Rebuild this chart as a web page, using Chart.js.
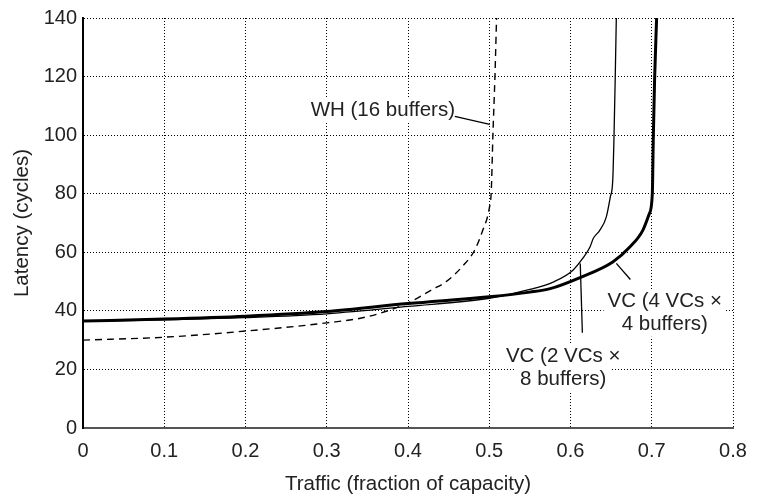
<!DOCTYPE html>
<html>
<head>
<meta charset="utf-8">
<script src="https://cdn.jsdelivr.net/npm/chart.js@4"></script>
<style>
  html, body { margin: 0; padding: 0; background: #fff; }
  canvas { display: block; }
</style>
</head>
<body>
<canvas id="chart" width="760" height="499"></canvas>
<script>
// Latency vs traffic for wormhole and virtual-channel flow control

const xTicks = [0, 0.1, 0.2, 0.3, 0.4, 0.5, 0.6, 0.7, 0.8];
const yTicks = [0, 20, 40, 60, 80, 100, 120, 140];

// WH (16 buffers) — dashed
const whX = [0, 0.1, 0.2, 0.3, 0.35, 0.4, 0.43, 0.447, 0.468, 0.482, 0.492, 0.5, 0.5025, 0.5045, 0.507, 0.509];
const whY = [30, 31, 33.1, 35.9, 38, 42.7, 47.3, 50, 55.5, 60.7, 67.5, 75, 81, 100, 120, 140];

// VC (2 VCs x 8 buffers) — thin
const vc2X = [0, 0.1, 0.2, 0.3, 0.4, 0.5, 0.55, 0.58, 0.603, 0.615, 0.624, 0.628, 0.636, 0.644, 0.649, 0.652, 0.6535, 0.655, 0.6564];
const vc2Y = [36.5, 36.9, 37.7, 39, 41.5, 44.3, 47.3, 50, 53.9, 57.9, 61.8, 64.7, 67.5, 72, 78.9, 84.6, 99, 119, 140];

// VC (4 VCs x 4 buffers) — thick
const vc4X = [0, 0.1, 0.2, 0.3, 0.4, 0.5, 0.55, 0.575, 0.611, 0.652, 0.673, 0.689, 0.697, 0.7007, 0.7019, 0.7035, 0.706];
const vc4Y = [36.5, 37.2, 38.2, 39.8, 42.5, 44.8, 46.4, 47.6, 51.3, 56.7, 61.8, 67.5, 73.2, 80, 99, 119, 140];

// Callout labels: text lines, text centre and leader line ends (data units)
const notes = [
  { lines: ['WH (16 buffers)'], at: [0.369, 108.5], lead: [[0.4576, 106.4], [0.5006, 103.7]] },
  { lines: ['VC (4 VCs \u00d7', '4 buffers)'], at: [0.716, 43.1], lead: [[0.6564, 56.2], [0.6737, 50.7]] },
  { lines: ['VC (2 VCs \u00d7', '8 buffers)'], at: [0.591, 24.6], lead: [[0.612, 56.2], [0.6146, 32.5]] }
];

const FONT = '"Liberation Sans", Arial, Helvetica, sans-serif';
const TEXT = '#222';

// Zips two arrays into {x, y} points
function pts(xs, ys) {
  return xs.map((x, i) => ({ x, y: ys[i] }));
}

// Draws callout text on white boxes plus leader lines, under the curves
const calloutPlugin = {
  id: 'callouts',
  beforeDatasetsDraw(chart) {
    const { ctx, scales: { x, y } } = chart;
    ctx.save();
    ctx.font = '20.5px ' + FONT;
    ctx.textAlign = 'center';
    ctx.textBaseline = 'middle';
    const lineH = 23;
    notes.forEach(n => {
      const cx = x.getPixelForValue(n.at[0]);
      const cy = y.getPixelForValue(n.at[1]);
      n.lines.forEach((t, i) => {
        const w = ctx.measureText(t).width;
        ctx.fillStyle = '#fff';
        ctx.fillRect(cx - w / 2 - 4, cy + i * lineH - 12, w + 8, 24);
      });
      n.lines.forEach((t, i) => {
        ctx.fillStyle = TEXT;
        ctx.fillText(t, cx, cy + i * lineH);
      });
      ctx.beginPath();
      ctx.strokeStyle = '#000';
      ctx.lineWidth = 1.3;
      ctx.moveTo(x.getPixelForValue(n.lead[0][0]), y.getPixelForValue(n.lead[0][1]));
      ctx.lineTo(x.getPixelForValue(n.lead[1][0]), y.getPixelForValue(n.lead[1][1]));
      ctx.stroke();
    });
    ctx.restore();
  }
};

function init() {
  const ctx = document.getElementById('chart').getContext('2d');
  new Chart(ctx, {
    type: 'scatter',
    data: {
      datasets: [
        {
          label: 'WH (16 buffers)',
          data: pts(whX, whY),
          showLine: true,
          borderColor: '#000',
          borderWidth: 1.4,
          borderDash: [7, 5],
          pointRadius: 0,
          cubicInterpolationMode: 'monotone'
        },
        {
          label: 'VC (2 VCs x 8 buffers)',
          data: pts(vc2X, vc2Y),
          showLine: true,
          borderColor: '#000',
          borderWidth: 1.3,
          pointRadius: 0,
          cubicInterpolationMode: 'monotone'
        },
        {
          label: 'VC (4 VCs x 4 buffers)',
          data: pts(vc4X, vc4Y),
          showLine: true,
          borderColor: '#000',
          borderWidth: 3,
          pointRadius: 0,
          cubicInterpolationMode: 'monotone'
        }
      ]
    },
    options: {
      responsive: false,
      animation: false,
      layout: { padding: { top: 17, right: 27, left: 0, bottom: 0 } },
      plugins: { legend: { display: false }, tooltip: { enabled: false } },
      scales: {
        x: {
          type: 'linear',
          min: 0,
          max: 0.8,
          afterBuildTicks: s => { s.ticks = xTicks.map(v => ({ value: v })); },
          afterFit: s => { s.height = 71; },
          ticks: {
            color: TEXT,
            font: { family: FONT, size: 20 },
            padding: 11,
            maxRotation: 0,
            callback: v => String(v)
          },
          grid: { color: '#000', lineWidth: 1, drawTicks: false },
          border: { display: true, color: '#555', width: 2, dash: [1, 2] },
          title: {
            display: true,
            text: 'Traffic (fraction of capacity)',
            color: TEXT,
            font: { family: FONT, size: 20.5 },
            padding: { top: 0, bottom: 2 }
          }
        },
        y: {
          type: 'linear',
          min: 0,
          max: 140,
          afterBuildTicks: s => { s.ticks = yTicks.map(v => ({ value: v })); },
          afterFit: s => { s.width = 83; },
          ticks: {
            color: TEXT,
            font: { family: FONT, size: 20 },
            padding: 6,
            callback: v => String(v)
          },
          grid: { color: '#000', lineWidth: 1, drawTicks: false },
          border: { display: true, color: '#000', width: 2, dash: [1, 2] },
          title: {
            display: true,
            text: 'Latency (cycles)',
            color: TEXT,
            font: { family: FONT, size: 20.5 },
            padding: { top: 10, bottom: 0 }
          }
        }
      }
    },
    plugins: [calloutPlugin]
  });
}

document.addEventListener('DOMContentLoaded', init);
</script>
</body>
</html>
